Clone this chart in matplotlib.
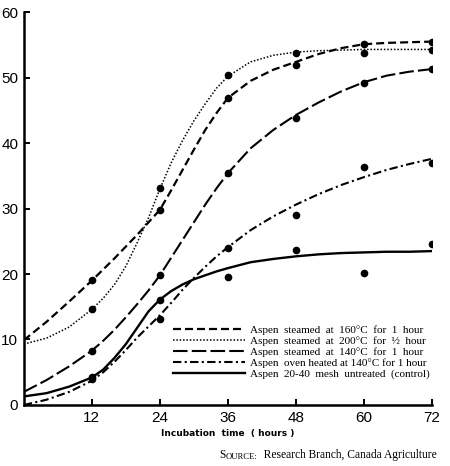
import matplotlib
matplotlib.use("Agg")
import matplotlib.pyplot as plt

OUTPUT_FILE = "out.png"

# measured points (hours)
point_hours = [12, 24, 36, 48, 60, 72]
pts_160 = [19.1, 29.7, 46.9, 51.9, 55.2, 55.5]
pts_200 = [14.6, 33.1, 50.4, 53.7, 53.8, 54.2]
pts_140 = [8.3, 19.8, 35.4, 43.8, 49.1, 51.3]
pts_oven = [3.9, 13.2, 24.0, 29.0, 36.3, 37.0]
pts_ctrl = [4.3, 16.1, 19.6, 23.6, 20.1, 24.6]

# fitted curves (denser where they bend)
curve_hours = [0, 4, 8, 12, 14, 16, 18, 20, 22, 24, 26, 28, 30, 32, 34, 36,
               40, 44, 48, 52, 56, 60, 64, 68, 72]
curve_160 = [9.9, 12.7, 15.8, 19.0, 20.7, 22.4, 24.2, 26.0, 27.9, 29.8, 32.8, 35.9,
             39.0, 42.0, 44.6, 46.9, 49.5, 51.2, 52.4, 53.6, 54.5, 55.1, 55.3, 55.4, 55.5]
curve_200 = [9.3, 10.2, 11.9, 14.6, 16.3, 18.4, 21.2, 24.8, 28.6, 33.0, 37.0, 40.4,
             43.4, 46.0, 48.4, 50.2, 52.4, 53.4, 53.9, 54.1, 54.2, 54.3, 54.3, 54.3, 54.3]
curve_140 = [2.0, 3.8, 5.9, 8.3, 9.8, 11.5, 13.4, 15.4, 17.5, 19.8, 22.5, 25.2,
             27.9, 30.6, 33.1, 35.4, 39.2, 42.0, 44.3, 46.2, 47.9, 49.3, 50.3, 50.9, 51.3]
curve_oven = [0.0, 0.8, 2.0, 3.7, 5.0, 6.6, 8.4, 10.3, 12.0, 13.7, 15.6, 17.6,
              19.4, 21.1, 22.7, 24.1, 26.7, 28.8, 30.6, 32.2, 33.6, 34.8, 35.9, 36.8, 37.6]
curve_ctrl = [1.3, 1.8, 2.8, 4.2, 5.4, 7.2, 9.3, 11.8, 14.3, 16.1, 17.4, 18.4,
              19.2, 19.8, 20.4, 20.9, 21.8, 22.3, 22.7, 23.0, 23.2, 23.3, 23.4, 23.4, 23.5]

labels = [
    "Aspen  steamed  at  160\u00b0C  for  1  hour",
    "Aspen  steamed  at  200\u00b0C  for  \u00bd  hour",
    "Aspen  steamed  at  140\u00b0C  for  1  hour",
    "Aspen  oven heated at 140\u00b0C for 1 hour",
    "Aspen  20-40  mesh  untreated  (control)",
]
x_ticks = [12, 24, 36, 48, 60, 72]
y_ticks = [0, 10, 20, 30, 40, 50, 60]

SERIF = ["Liberation Serif", "DejaVu Serif"]
SANS = ["Liberation Sans", "DejaVu Sans"]


def make_plot():
    fig = plt.figure(figsize=(4.5, 4.66), dpi=100)
    ax = fig.add_axes([0.053, 0.131, 0.907, 0.843])

    styles = [
        dict(linestyle=(0, (3.6, 1.8)), linewidth=1.6),
        dict(linestyle=(0, (1, 1.2)), linewidth=1.1),
        dict(linestyle=(0, (7, 2)), linewidth=1.5),
        dict(linestyle=(0, (4, 1.6, 1, 1.6)), linewidth=1.5),
        dict(linestyle="-", linewidth=1.7),
    ]
    curves = [curve_160, curve_200, curve_140, curve_oven, curve_ctrl]
    points = [pts_160, pts_200, pts_140, pts_oven, pts_ctrl]

    for curve, pts, style, label in zip(curves, points, styles, labels):
        ax.plot(curve_hours, curve, color="black", label=label,
                dash_capstyle="butt", **style)
        ax.plot(point_hours, pts, "o", color="black", markersize=4.5, zorder=3)

    ax.set_xlim(0, 72)
    ax.set_ylim(0, 60)
    ax.set_xticks(x_ticks)
    ax.set_yticks(y_ticks)
    ax.set_xticklabels([str(t) for t in x_ticks], family=SANS, fontsize=11)
    ax.set_yticklabels([str(t) for t in y_ticks], family=SANS, fontsize=11)
    ax.tick_params(direction="in", length=4, width=1.4, pad=4)

    for side in ["top", "right"]:
        ax.spines[side].set_visible(False)
    for side in ["left", "bottom"]:
        ax.spines[side].set_linewidth(1.8)

    ax.set_xlabel("Incubation  time  ( hours )", fontsize=6.5, fontweight="bold",
                  labelpad=3)

    leg = ax.legend(loc="lower right", bbox_to_anchor=(1.02, 0.04), frameon=False,
                    handlelength=6.5, handletextpad=0.5, labelspacing=0.12,
                    prop={"family": SERIF, "size": 8})
    for line in leg.get_lines():
        line.set_color("black")

    # small caps source note
    t1 = fig.text(0.488, 0.018, "S", family=SERIF, fontsize=8.3)
    t2 = ax.annotate("OURCE:", xy=(1, 0), xycoords=t1, va="bottom",
                     family=SERIF, fontsize=6.2)
    ax.annotate("  Research Branch, Canada Agriculture", xy=(1, 0), xycoords=t2,
                va="bottom", family=SERIF, fontsize=8.3)

    fig.savefig(OUTPUT_FILE, dpi=100)
    plt.close(fig)


if __name__ == "__main__":
    make_plot()
